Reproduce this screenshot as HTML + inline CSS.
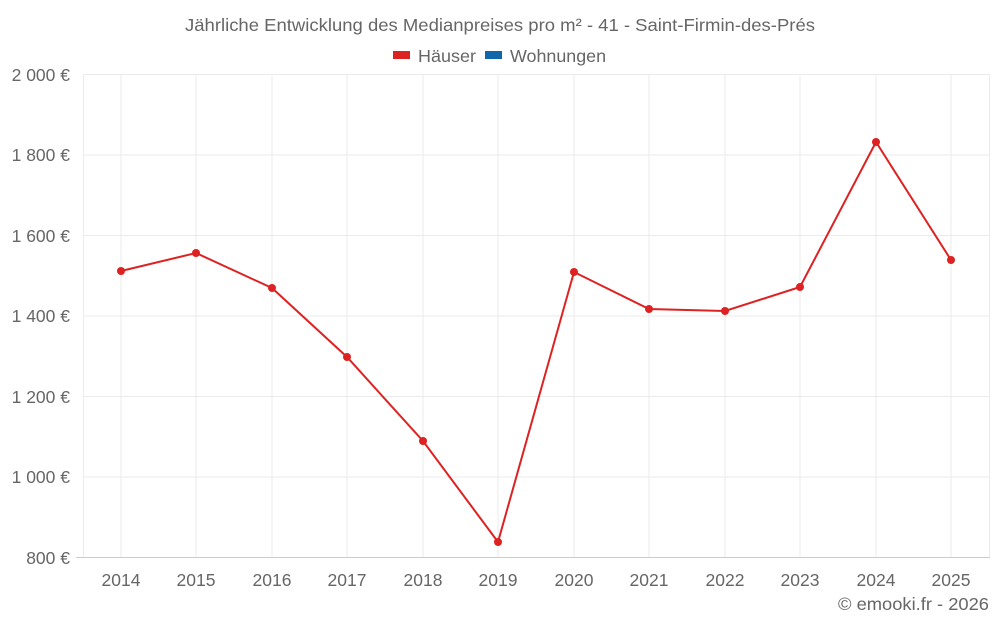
<!DOCTYPE html>
<html><head><meta charset="utf-8"><style>
body{margin:0;background:#fff;}
svg text{font-family:"Liberation Sans",sans-serif;fill:#666;}
</style></head><body>
<svg width="1000" height="625" xmlns="http://www.w3.org/2000/svg">
<text x="185" y="31" font-size="17.5" textLength="630" lengthAdjust="spacingAndGlyphs">Jährliche Entwicklung des Medianpreises pro m² - 41 - Saint-Firmin-des-Prés</text>
<rect x="393" y="51" width="17" height="8" fill="#dd2222"/>
<text x="418" y="62" font-size="17.5" textLength="58" lengthAdjust="spacingAndGlyphs">Häuser</text>
<rect x="485" y="51" width="17" height="8" fill="#1166aa"/>
<text x="510" y="62" font-size="17.5" textLength="96" lengthAdjust="spacingAndGlyphs">Wohnungen</text>
<g stroke="#ebebeb" stroke-width="1">
<line x1="83" y1="74.5" x2="990" y2="74.5"/>
<line x1="83" y1="155" x2="990" y2="155"/>
<line x1="83" y1="235.5" x2="990" y2="235.5"/>
<line x1="83" y1="316" x2="990" y2="316"/>
<line x1="83" y1="396.5" x2="990" y2="396.5"/>
<line x1="83" y1="477" x2="990" y2="477"/>
<line x1="83.5" y1="74" x2="83.5" y2="557"/>
<line x1="121" y1="74" x2="121" y2="557"/><line x1="196" y1="74" x2="196" y2="557"/>
<line x1="272" y1="74" x2="272" y2="557"/><line x1="347" y1="74" x2="347" y2="557"/>
<line x1="423" y1="74" x2="423" y2="557"/><line x1="498" y1="74" x2="498" y2="557"/>
<line x1="574" y1="74" x2="574" y2="557"/><line x1="649" y1="74" x2="649" y2="557"/>
<line x1="725" y1="74" x2="725" y2="557"/><line x1="800" y1="74" x2="800" y2="557"/>
<line x1="876" y1="74" x2="876" y2="557"/><line x1="951" y1="74" x2="951" y2="557"/>
<line x1="989.5" y1="74" x2="989.5" y2="557"/>
</g>
<line x1="76" y1="557.5" x2="990" y2="557.5" stroke="#ccc"/>
<g font-size="17.5" text-anchor="end">
<text x="70" y="81">2 000 €</text><text x="70" y="161">1 800 €</text>
<text x="70" y="242">1 600 €</text><text x="70" y="322">1 400 €</text>
<text x="70" y="403">1 200 €</text><text x="70" y="483">1 000 €</text>
<text x="70" y="564">800 €</text>
</g>
<g font-size="17.5" text-anchor="middle">
<text x="121" y="586">2014</text><text x="196" y="586">2015</text><text x="272" y="586">2016</text>
<text x="347" y="586">2017</text><text x="423" y="586">2018</text><text x="498" y="586">2019</text>
<text x="574" y="586">2020</text><text x="649" y="586">2021</text><text x="725" y="586">2022</text>
<text x="800" y="586">2023</text><text x="876" y="586">2024</text><text x="951" y="586">2025</text>
</g>
<text x="838" y="610" font-size="17.5" textLength="151" lengthAdjust="spacingAndGlyphs">© emooki.fr - 2026</text>
<polyline fill="none" stroke="#dd2222" stroke-width="2" points="121,271 196,253 272,288 347,357 423,441 498,542 574,272 649,309 725,311 800,287 876,142 951,260"/>
<g fill="#dd2222">
<circle cx="121" cy="271" r="4"/><circle cx="196" cy="253" r="4"/><circle cx="272" cy="288" r="4"/>
<circle cx="347" cy="357" r="4"/><circle cx="423" cy="441" r="4"/><circle cx="498" cy="542" r="4"/>
<circle cx="574" cy="272" r="4"/><circle cx="649" cy="309" r="4"/><circle cx="725" cy="311" r="4"/>
<circle cx="800" cy="287" r="4"/><circle cx="876" cy="142" r="4"/><circle cx="951" cy="260" r="4"/>
</g>
</svg>
</body></html>
